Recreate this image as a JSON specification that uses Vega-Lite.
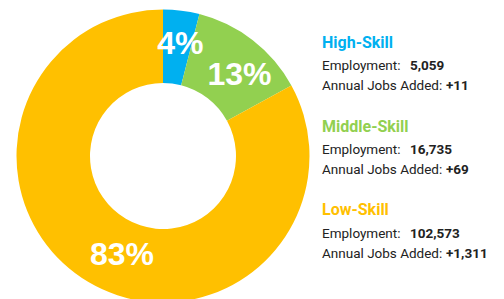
{
  "$schema": "https://vega.github.io/schema/vega-lite/v6.json",
  "padding": {"left": 0, "top": 9, "right": 0, "bottom": 0},
  "background": "white",
  "bounds": "flush",
  "config": {"view": {"stroke": null}},
  "data": {"values": [
    {"skill": "High-Skill", "pct": 4, "label": "4%", "employment": "5,059", "jobs": "+11", "ord": 1},
    {"skill": "Middle-Skill", "pct": 13, "label": "13%", "employment": "16,735", "jobs": "+69", "ord": 2},
    {"skill": "Low-Skill", "pct": 83, "label": "83%", "employment": "102,573", "jobs": "+1,311", "ord": 3}
  ]},
  "spacing": 0,
  "hconcat": [
    {
      "width": 326,
      "height": 290,
      "encoding": {
        "theta": {"field": "pct", "type": "quantitative", "stack": true},
        "order": {"field": "ord", "type": "quantitative"}
      },
      "layer": [
        {
          "mark": {"type": "arc", "outerRadius": 146.5, "innerRadius": 73},
          "encoding": {
            "color": {"field": "skill", "type": "nominal",
              "scale": {"domain": ["High-Skill", "Middle-Skill", "Low-Skill"], "range": ["#00B0F0", "#92D050", "#FFC000"]},
              "legend": null}
          }
        },
        {
          "mark": {"type": "text", "radius": 110, "dx": 3.5, "dy": -3, "font": "Liberation Sans", "fontSize": 32, "fontWeight": "bold", "color": "white"},
          "encoding": {"text": {"condition": {"test": "datum.skill === 'High-Skill'", "field": "label"}, "value": ""}}
        },
        {
          "mark": {"type": "text", "radius": 110, "dx": 9, "dy": 6, "font": "Liberation Sans", "fontSize": 32, "fontWeight": "bold", "color": "white"},
          "encoding": {"text": {"condition": {"test": "datum.skill === 'Middle-Skill'", "field": "label"}, "value": ""}}
        },
        {
          "mark": {"type": "text", "radius": 110, "dx": 15, "dy": 4, "font": "Liberation Sans", "fontSize": 32, "fontWeight": "bold", "color": "white"},
          "encoding": {"text": {"condition": {"test": "datum.skill === 'Low-Skill'", "field": "label"}, "value": ""}}
        }
      ]
    },
    {
      "width": 178,
      "height": 241,
      "encoding": {
        "y": {"field": "skill", "type": "nominal", "sort": ["High-Skill", "Middle-Skill", "Low-Skill"], "scale": {"type": "point", "padding": 0.443}, "axis": null},
        "x": {"datum": 0, "type": "quantitative", "scale": {"domain": [0, 1]}, "axis": null}
      },
      "layer": [
        {
          "mark": {"type": "text", "align": "left", "baseline": "alphabetic", "dx": -4, "font": "Roboto", "fontSize": 16, "fontWeight": "bold"},
          "encoding": {
            "text": {"field": "skill"},
            "color": {"field": "skill", "type": "nominal", "legend": null}
          }
        },
        {
          "mark": {"type": "text", "align": "left", "baseline": "alphabetic", "dx": -4, "dy": 22.5, "font": "Roboto", "fontSize": 13.5, "color": "#222222"},
          "encoding": {"text": {"value": "Employment:"}}
        },
        {
          "mark": {"type": "text", "align": "left", "baseline": "alphabetic", "dx": 84, "dy": 22.5, "font": "Roboto", "fontSize": 13.5, "fontWeight": "bold", "color": "#222222"},
          "encoding": {"text": {"field": "employment"}}
        },
        {
          "mark": {"type": "text", "align": "left", "baseline": "alphabetic", "dx": -4, "dy": 42.5, "font": "Roboto", "fontSize": 13.5, "color": "#222222"},
          "encoding": {"text": {"value": "Annual Jobs Added:"}}
        },
        {
          "mark": {"type": "text", "align": "left", "baseline": "alphabetic", "dx": 120, "dy": 42.5, "font": "Roboto", "fontSize": 13.5, "fontWeight": "bold", "color": "#222222"},
          "encoding": {"text": {"field": "jobs"}}
        }
      ]
    }
  ]
}
